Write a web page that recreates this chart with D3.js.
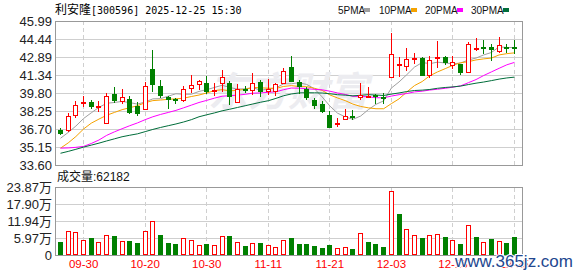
<!DOCTYPE html>
<html>
<head>
<meta charset="utf-8">
<script src="https://cdn.jsdelivr.net/npm/d3@7"></script>
<style>
  body { margin: 0; background: #fff; }
  svg { display: block; }
  text { font-family: "Liberation Sans", Arial, "Noto Sans CJK SC", sans-serif; }
</style>
</head>
<body>
<div id="chart"></div>
<script>
// trading days shown (MM-DD)
const dates = [
  "09-25", "09-26", "09-29", "09-30", "10-09", "10-10", "10-13", "10-14", "10-15", "10-16",
  "10-17", "10-20", "10-21", "10-22", "10-23", "10-24", "10-27", "10-28", "10-29", "10-30",
  "10-31", "11-03", "11-04", "11-05", "11-06", "11-07", "11-10", "11-11", "11-12", "11-13",
  "11-14", "11-17", "11-18", "11-19", "11-20", "11-21", "11-24", "11-25", "11-26", "11-27",
  "11-28", "12-01", "12-02", "12-03", "12-04", "12-05", "12-08", "12-09", "12-10", "12-11",
  "12-12", "12-15", "12-16", "12-17", "12-18", "12-19", "12-22", "12-23", "12-24", "12-25"
];

const open = [
  36.64, 36.50, 37.82, 38.82, 39.02, 38.48, 37.10, 39.68, 39.05, 39.25,
  38.65, 38.30, 41.83, 40.37, 39.42, 39.28, 39.11, 40.17, 40.45, 40.66,
  39.94, 40.54, 40.66, 38.91, 40.17, 39.97, 40.74, 39.88, 39.91, 40.57,
  42.06, 40.71, 40.11, 39.19, 38.85, 37.90, 37.07, 37.44, 37.82, 39.34,
  39.45, 39.59, 39.48, 41.06, 42.09, 42.00, 42.61, 42.84, 41.29, 42.69,
  42.92, 42.12, 42.32, 41.55, 43.58, 43.78, 43.78, 43.35, 43.78, 43.72
];
const high = [
  36.76, 38.05, 39.11, 39.51, 39.22, 39.08, 39.80, 40.31, 40.11, 39.51,
  39.02, 40.71, 43.49, 40.89, 39.51, 39.37, 40.37, 41.34, 40.89, 41.26,
  40.66, 41.77, 40.83, 40.54, 40.40, 41.52, 40.94, 40.97, 40.68, 41.92,
  43.01, 40.91, 40.31, 39.39, 39.11, 38.25, 37.62, 38.39, 38.30, 40.66,
  40.31, 39.74, 39.82, 44.96, 42.89, 43.64, 43.27, 42.89, 43.01, 44.27,
  43.01, 43.01, 42.32, 44.18, 44.56, 44.36, 44.04, 44.61, 43.98, 44.36
];
const low = [
  36.18, 36.45, 37.67, 38.59, 38.45, 38.19, 37.10, 38.91, 38.82, 37.96,
  37.82, 38.30, 39.91, 39.39, 38.39, 38.88, 39.02, 39.82, 40.02, 39.68,
  39.54, 39.88, 38.73, 38.91, 39.77, 39.62, 39.45, 39.59, 39.54, 40.57,
  40.74, 39.68, 39.19, 38.45, 38.10, 36.81, 36.90, 37.44, 37.47, 39.16,
  39.34, 38.88, 38.88, 41.06, 41.20, 41.69, 42.26, 41.26, 41.11, 41.98,
  42.23, 41.89, 41.34, 41.55, 43.44, 43.12, 42.55, 43.27, 43.24, 43.18
];
const close = [
  36.30, 37.79, 38.73, 39.02, 38.62, 38.65, 39.51, 39.11, 39.48, 38.10,
  38.02, 40.37, 40.48, 39.57, 39.16, 39.08, 40.17, 40.45, 40.80, 39.88,
  40.05, 41.14, 39.48, 40.11, 39.97, 40.66, 39.88, 40.11, 40.57, 41.66,
  40.74, 40.31, 39.39, 38.68, 38.19, 36.81, 37.21, 37.82, 37.62, 39.60,
  39.57, 39.51, 39.31, 43.12, 42.26, 42.69, 42.78, 41.26, 42.61, 42.89,
  42.35, 42.43, 41.55, 43.98, 43.66, 43.70, 43.49, 43.95, 43.70, 43.64
];

const ma5 = [
  35.90, 36.40, 36.95, 37.60, 38.09, 38.56, 38.91, 38.98, 39.07, 38.97,
  38.84, 39.02, 39.29, 39.31, 39.52, 39.73, 39.69, 39.69, 39.93, 40.08,
  40.27, 40.46, 40.27, 40.13, 40.15, 40.27, 40.02, 40.15, 40.24, 40.58,
  40.59, 40.68, 40.53, 40.16, 39.46, 38.68, 38.06, 37.74, 37.53, 37.81,
  38.36, 38.82, 39.12, 40.22, 40.75, 41.37, 42.02, 42.42, 42.32, 42.45,
  42.38, 42.31, 42.37, 42.64, 42.80, 43.07, 43.28, 43.77, 43.71, 43.71
];
const ma10 = [
  35.05, 35.50, 36.05, 36.70, 37.20, 37.55, 37.88, 38.12, 38.36, 38.53,
  38.70, 38.96, 39.14, 39.19, 39.25, 39.29, 39.35, 39.49, 39.62, 39.80,
  40.00, 40.08, 39.98, 40.03, 40.11, 40.27, 40.24, 40.21, 40.19, 40.36,
  40.43, 40.35, 40.34, 40.20, 40.02, 39.63, 39.37, 39.14, 38.84, 38.64,
  38.52, 38.44, 38.44, 38.88, 39.29, 39.88, 40.43, 40.78, 41.28, 41.61,
  41.89, 42.18, 42.40, 42.49, 42.64, 42.73, 42.80, 43.07, 43.18, 43.25
];
const ma20 = [
  35.05, 35.07, 35.12, 35.20, 35.45, 35.75, 36.15, 36.45, 36.72, 36.98,
  37.22, 37.50, 37.75, 37.95, 38.12, 38.30, 38.52, 38.75, 38.98, 39.16,
  39.35, 39.52, 39.56, 39.61, 39.68, 39.78, 39.80, 39.85, 39.90, 40.08,
  40.22, 40.21, 40.16, 40.11, 40.07, 39.95, 39.80, 39.67, 39.51, 39.50,
  39.47, 39.39, 39.38, 39.53, 39.65, 39.75, 39.89, 39.95, 40.05, 40.12,
  40.20, 40.30, 40.41, 40.68, 40.95, 41.30, 41.61, 41.92, 42.22, 42.43
];
const ma30 = [
  34.61, 34.77, 34.95, 35.14, 35.31, 35.48, 35.67, 35.85, 36.03, 36.16,
  36.28, 36.47, 36.66, 36.83, 36.98, 37.13, 37.30, 37.50, 37.75, 37.92,
  38.08, 38.26, 38.40, 38.55, 38.70, 38.85, 39.00, 39.13, 39.33, 39.56,
  39.71, 39.80, 39.82, 39.81, 39.79, 39.73, 39.65, 39.61, 39.55, 39.60,
  39.65, 39.62, 39.58, 39.70, 39.80, 39.92, 40.01, 40.04, 40.10, 40.20,
  40.27, 40.32, 40.39, 40.52, 40.64, 40.74, 40.86, 40.99, 41.09, 41.16
];

// volume in 万 (10k) units
const volume = [
  4.56, 8.31, 7.96, 5.15, 5.97, 4.45, 6.90, 6.67, 4.80, 4.80,
  4.21, 8.31, 11.82, 7.02, 4.21, 3.86, 5.85, 5.15, 3.39, 3.86,
  3.39, 6.55, 6.67, 4.45, 3.16, 4.10, 4.21, 3.39, 2.81, 5.15,
  5.97, 3.86, 3.86, 3.28, 2.57, 3.51, 2.46, 2.81, 2.11, 7.61,
  4.56, 3.86, 2.93, 22.46, 14.39, 9.13, 6.90, 5.97, 6.90, 7.25,
  6.32, 5.15, 3.74, 10.41, 6.32, 4.45, 5.62, 4.91, 4.21, 6.2182
];

const priceTicks = [45.99, 44.44, 42.89, 41.34, 39.80, 38.25, 36.70, 35.15, 33.60];
const volumeTicks = [23.87, 17.90, 11.94, 5.97, 0];
const dateTicks = ["09-30", "10-20", "10-30", "11-11", "11-21", "12-03", "12-15", "12-25"];

const maSeries = [
  { name: "5PMA", values: ma5, color: "#a0a0a0", lx: 338 },
  { name: "10PMA", values: ma10, color: "#f5a200", lx: 379 },
  { name: "20PMA", values: ma20, color: "#ff00ff", lx: 425 },
  { name: "30PMA", values: ma30, color: "#006d3a", lx: 471 }
];

const UP = "#ff0000", DOWN = "#008000";
const width = 578, height = 276;
const left = 55, right = 522;
const priceTop = 21, priceBottom = 165;
const volTop = 187, volBottom = 255;

const svg = d3.select("#chart").append("svg")
  .attr("width", width)
  .attr("height", height);

const x = d3.scalePoint().domain(dates).range([60, 514]);
const y = d3.scaleLinear().domain([33.60, 45.99]).range([priceBottom, priceTop]);
const yv = d3.scaleLinear().domain([0, 23.87]).range([volBottom, volTop]);
const cx = d => Math.round(x(d));

// grids
function grid(top, bottom, scale, ticks) {
  const g = svg.append("g");
  g.append("g")
    .attr("transform", `translate(${left},0)`)
    .call(d3.axisLeft(scale).tickValues(ticks).tickSize(-(right - left)).tickFormat(""))
    .call(a => a.select(".domain").remove())
    .call(a => a.selectAll("line").attr("stroke", "#cfcfcf").attr("shape-rendering", "crispEdges"));
  g.append("g")
    .attr("transform", `translate(0,${bottom})`)
    .call(d3.axisBottom(x).tickValues(dateTicks).tickSize(-(bottom - top)).tickFormat(""))
    .call(a => a.select(".domain").remove())
    .call(a => a.selectAll("line")
      .attr("stroke", "#cfcfcf")
      .attr("stroke-dasharray", "4,3")
      .attr("shape-rendering", "crispEdges"));
}
grid(priceTop, priceBottom, y, priceTicks);
grid(volTop, volBottom, yv, volumeTicks);

// faint watermark
svg.append("text")
  .attr("x", 208).attr("y", 106)
  .attr("font-family", "Noto Sans CJK SC")
  .attr("font-size", 40)
  .attr("font-weight", "bold")
  .attr("font-style", "italic")
  .attr("fill", "#ececf0")
  .text("东方财富");

// moving averages
maSeries.forEach(s => {
  svg.append("path")
    .datum(s.values)
    .attr("fill", "none")
    .attr("stroke", s.color)
    .attr("stroke-width", 1)
    .attr("d", d3.line().x((d, i) => x(dates[i]) + 0.5).y(d => y(d)));
});

// candles
const idx = d3.range(dates.length);
const candle = svg.append("g").attr("shape-rendering", "crispEdges")
  .selectAll("g").data(idx).enter().append("g");

candle.each(function(i) {
  const g = d3.select(this);
  const c = cx(dates[i]);
  const up = close[i] >= open[i];
  const top = Math.round(y(Math.max(open[i], close[i])));
  const bot = Math.max(Math.round(y(Math.min(open[i], close[i]))), top + 1);
  const hi = Math.round(y(high[i]));
  const lo = Math.round(y(low[i]));
  if (up) {
    g.append("line").attr("x1", c + 0.5).attr("x2", c + 0.5).attr("y1", hi).attr("y2", top)
      .attr("stroke", UP);
    g.append("line").attr("x1", c + 0.5).attr("x2", c + 0.5).attr("y1", bot).attr("y2", lo)
      .attr("stroke", UP);
    g.append("rect").attr("x", c - 1.5).attr("y", top + 0.5)
      .attr("width", 4).attr("height", Math.max(bot - top - 1, 1))
      .attr("fill", "#fff").attr("stroke", UP);
  } else {
    g.append("line").attr("x1", c + 0.5).attr("x2", c + 0.5).attr("y1", hi).attr("y2", lo)
      .attr("stroke", DOWN);
    g.append("rect").attr("x", c - 2).attr("y", top)
      .attr("width", 5).attr("height", Math.max(bot - top, 2))
      .attr("fill", DOWN);
  }
});

// volume bars, coloured by change against previous close
const bars = svg.append("g").attr("shape-rendering", "crispEdges")
  .selectAll("rect").data(idx).enter().append("rect");
bars.each(function(i) {
  const up = i > 0 ? close[i] >= close[i - 1] : close[i] >= open[i];
  const c = cx(dates[i]);
  const t = Math.round(yv(volume[i]));
  if (up) {
    d3.select(this).attr("x", c - 1.5).attr("y", t + 0.5)
      .attr("width", 4).attr("height", volBottom - t - 1)
      .attr("fill", "#fff").attr("stroke", UP);
  } else {
    d3.select(this).attr("x", c - 2).attr("y", t)
      .attr("width", 5).attr("height", volBottom - t)
      .attr("fill", DOWN);
  }
});

// frames
[[priceTop, priceBottom], [volTop, volBottom]].forEach(([t, b]) => {
  svg.append("rect")
    .attr("x", left + 0.5).attr("y", t + 0.5)
    .attr("width", right - left).attr("height", b - t)
    .attr("fill", "none").attr("stroke", "#999")
    .attr("shape-rendering", "crispEdges");
});

// axes labels
svg.append("g")
  .attr("transform", `translate(${left},0)`)
  .call(d3.axisLeft(y).tickValues(priceTicks).tickSize(0).tickPadding(3).tickFormat(d3.format(".2f")))
  .call(a => a.select(".domain").remove())
  .call(a => a.selectAll("text").attr("font-size", 13).attr("fill", "#222")
    .attr("font-family", "Liberation Sans, Arial, sans-serif"));

svg.append("g")
  .attr("transform", `translate(${left},0)`)
  .call(d3.axisLeft(yv).tickValues(volumeTicks).tickSize(0).tickPadding(3)
    .tickFormat(d => d === 0 ? "0" : d3.format(".2f")(d) + "万"))
  .call(a => a.select(".domain").remove())
  .call(a => a.selectAll("text").attr("font-size", 13).attr("fill", "#222")
    .attr("font-family", "Liberation Sans, Arial, Noto Sans CJK SC, sans-serif"));

svg.append("g")
  .attr("transform", `translate(0,${volBottom})`)
  .call(d3.axisBottom(x).tickValues(dateTicks).tickSize(0).tickPadding(5))
  .call(a => a.select(".domain").remove())
  .call(a => a.selectAll("text").attr("font-size", 11.5).attr("fill", "#ff0000")
    .attr("font-family", "Liberation Sans, Arial, sans-serif"));

// title
const title = svg.append("text").attr("x", 55).attr("y", 14);
title.append("tspan").attr("font-family", "Noto Sans CJK SC").attr("font-size", 12).text("利安隆");
title.append("tspan").attr("font-family", "DejaVu Sans Mono").attr("font-size", 10)
  .attr("xml:space", "preserve").style("white-space", "pre")
  .text("[300596] 2025-12-25 15:30");

// legend
maSeries.forEach(s => {
  svg.append("text").attr("x", s.lx).attr("y", 14)
    .attr("font-family", "DejaVu Sans Mono").attr("font-size", 10).attr("fill", "#111")
    .text(s.name);
  svg.append("rect").attr("x", s.lx + s.name.length * 6 + 2).attr("y", 8)
    .attr("width", 6).attr("height", 4).attr("fill", s.color);
});

// volume caption
svg.append("text").attr("x", 57).attr("y", 181).attr("font-size", 12).attr("fill", "#111")
  .text("成交量:" + Math.round(volume[volume.length - 1] * 10000));

// site watermark
svg.append("text")
  .attr("x", 573).attr("y", 267)
  .attr("text-anchor", "end")
  .attr("font-family", "DejaVu Serif, serif")
  .attr("font-size", 17)
  .attr("fill", "#23478f")
  .attr("stroke", "#fff").attr("stroke-width", 2).attr("paint-order", "stroke")
  .text("www.365jz.com");
</script>
</body>
</html>
